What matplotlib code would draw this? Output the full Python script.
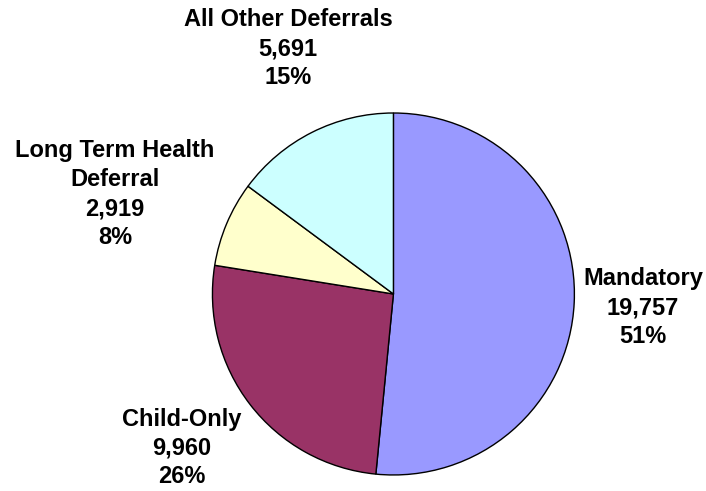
import matplotlib
matplotlib.use("Agg")
import matplotlib.pyplot as plt

categories = ["Mandatory", "Child-Only", "Long Term Health\nDeferral", "All Other Deferrals"]
values = [19757, 9960, 2919, 5691]
value_labels = ["19,757", "9,960", "2,919", "5,691"]
pct_labels = ["51%", "26%", "8%", "15%"]
colors = ["#9999FF", "#993366", "#FFFFCC", "#CCFFFF"]

# label positions in pie-radius units
label_pos = [(1.379, -0.075), (-1.168, -0.851), (-1.538, 0.552), (-0.582, 1.354)]

plt.rcParams['font.family'] = ['Liberation Sans', 'DejaVu Sans']

fig = plt.figure(figsize=(7.06, 4.91), dpi=100)
fig.patch.set_facecolor("white")
ax = fig.add_axes([0.3009, 0.0326, 0.5127, 0.7373])
ax.pie(values, colors=colors, startangle=90, counterclock=False,
       wedgeprops=dict(edgecolor="black", linewidth=1.0))
ax.set_xlim(-1, 1)
ax.set_ylim(-1, 1)
ax.set_aspect("equal")
ax.axis("off")

for cat, v, p, (x, y) in zip(categories, value_labels, pct_labels, label_pos):
    ax.text(x, y, f"{cat}\n{v}\n{p}", ha="center", va="center",
            fontsize=17, fontweight="bold", linespacing=1.33, clip_on=False)

fig.savefig("out.png", dpi=100)
